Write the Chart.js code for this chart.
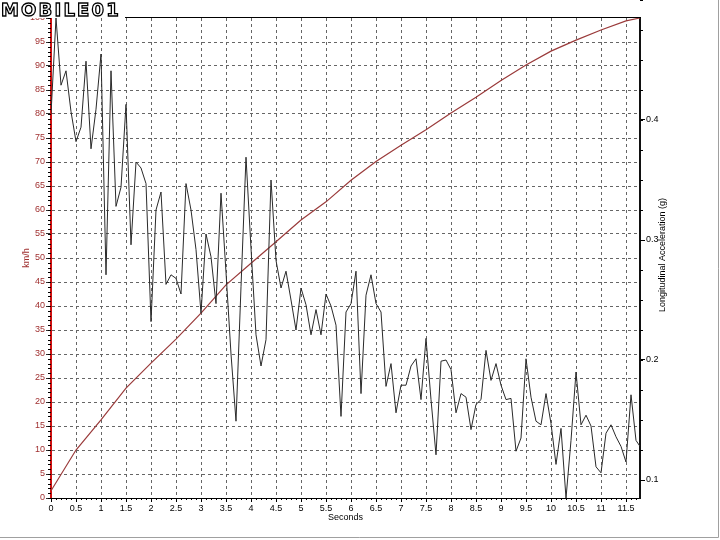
<!DOCTYPE html>
<html><head><meta charset="utf-8">
<script src="https://cdn.jsdelivr.net/npm/chart.js@4.4.1/dist/chart.umd.min.js"></script>
<style>
html,body{margin:0;padding:0;background:#fff;}
#wrap{position:relative;width:720px;height:540px;overflow:hidden;}
#logo{position:absolute;left:1px;top:0;height:18px;width:124px;background:#fff;
 font:bold 18px "DejaVu Sans",sans-serif;line-height:19px;letter-spacing:2.2px;color:#fff;
 -webkit-text-stroke:1.3px #000;white-space:nowrap;}
</style></head>
<body><div id="wrap"><canvas id="c" width="720" height="540"></canvas><div id="logo">MOBILE01</div></div>
<script>
// ---- data ----
const times = [0,0.1,0.2,0.3,0.4,0.5,0.6,0.7,0.8,0.9,1,1.1,1.2,1.3,1.4,1.5,1.6,1.7,1.8,1.9,
 2,2.1,2.2,2.3,2.4,2.5,2.6,2.7,2.8,2.9,3,3.1,3.2,3.3,3.4,3.5,3.6,3.7,3.8,3.9,
 4,4.1,4.2,4.3,4.4,4.5,4.6,4.7,4.8,4.9,5,5.1,5.2,5.3,5.4,5.5,5.6,5.7,5.8,5.9,
 6,6.1,6.2,6.3,6.4,6.5,6.6,6.7,6.8,6.9,7,7.1,7.2,7.3,7.4,7.5,7.6,7.7,7.8,7.9,
 8,8.1,8.2,8.3,8.4,8.5,8.6,8.7,8.8,8.9,9,9.1,9.2,9.3,9.4,9.5,9.6,9.7,9.8,9.9,
 10,10.1,10.2,10.3,10.4,10.5,10.6,10.7,10.8,10.9,11,11.1,11.2,11.3,11.4,11.5,11.6,11.7,11.78];
const accelG = [0.405,0.485,0.429,0.441,0.407,0.382,0.394,0.449,0.376,0.409,
 0.455,0.271,0.441,0.328,0.344,0.413,0.296,0.365,0.360,0.347,
 0.232,0.325,0.340,0.263,0.271,0.268,0.255,0.347,0.325,0.292,
 0.239,0.305,0.286,0.247,0.339,0.273,0.205,0.149,0.261,0.369,
 0.293,0.221,0.195,0.217,0.350,0.283,0.260,0.274,0.250,0.225,
 0.260,0.246,0.221,0.242,0.221,0.255,0.245,0.229,0.153,0.240,
 0.247,0.274,0.172,0.254,0.271,0.247,0.240,0.178,0.197,0.156,
 0.179,0.179,0.195,0.201,0.167,0.218,0.167,0.121,0.199,0.200,
 0.192,0.156,0.172,0.169,0.142,0.163,0.167,0.208,0.183,0.197,
 0.179,0.167,0.168,0.124,0.135,0.201,0.169,0.149,0.146,0.172,
 0.147,0.113,0.143,0.085,0.133,0.190,0.146,0.154,0.145,0.111,
 0.106,0.139,0.146,0.136,0.128,0.115,0.171,0.133,0.128];
const speedTimes = [0,0.5,1,1.5,2,2.5,3,3.5,4,4.5,5,5.5,6,6.5,7,7.5,8,8.5,9,9.5,10,10.5,11,11.5,11.78];
const speedKmh = [1.5,10,16.3,22.9,28.1,33.1,38.5,44.4,48.9,53.4,57.9,61.7,66.2,70.1,73.5,76.7,80.2,83.5,87,90.2,93.1,95.4,97.5,99.4,100];
const xTickLabels = [0,0.5,1,1.5,2,2.5,3,3.5,4,4.5,5,5.5,6,6.5,7,7.5,8,8.5,9,9.5,10,10.5,11,11.5];
const yTickLabels = [0,5,10,15,20,25,30,35,40,45,50,55,60,65,70,75,80,85,90,95,100];
const y2TickLabels = [0.1,0.2,0.3,0.4];

const FONT = {family:'"Liberation Sans", Arial, sans-serif', size:9};
const RED = '#a03030';

const extras = {
  id:'extras',
  beforeDraw(chart){
    const c = chart.ctx; c.save(); c.fillStyle='#fff'; c.fillRect(0,0,chart.width,chart.height); c.restore();
  },
  afterDraw(chart){
    const c = chart.ctx, a = chart.chartArea, {x,y,y2} = chart.scales;
    c.save();
    c.strokeStyle = '#000'; c.lineWidth = 1;
    c.beginPath();
    for (let i=0;i<=117;i++){ const px=Math.round(x.getPixelForValue(i/10))+0.5; c.moveTo(px,a.bottom); c.lineTo(px,a.bottom+2); }
    for (let i=0;i<=100;i++){ const py=Math.round(y.getPixelForValue(i))+0.5; c.moveTo(a.left-3,py); c.lineTo(a.left,py); }
    for (let i=0;i<=16;i++){ const py=Math.round(y2.getPixelForValue(0.1+i*0.025))+0.5; c.moveTo(a.right,py); c.lineTo(a.right+3,py); }
    c.stroke();
    // top frame line
    c.beginPath(); c.moveTo(a.left,Math.round(a.top)-0.5); c.lineTo(a.right+1,Math.round(a.top)-0.5); c.stroke();
    // right axis title
    c.fillStyle='#000'; c.font = '9px "Liberation Sans", Arial, sans-serif';
    c.textAlign='center'; c.textBaseline='middle';
    c.translate(663,255); c.rotate(-Math.PI/2); c.fillText('Longitudinal Acceleration (g)',0,0);
    c.restore();
    // outer gray frame
    c.save(); c.strokeStyle='#a0a0a0'; c.lineWidth=1;
    c.beginPath(); c.moveTo(0,537.5); c.lineTo(718.5,537.5); c.lineTo(718.5,0); c.stroke(); c.restore();
  }
};

new Chart(document.getElementById('c'), {
  type:'line',
  data:{datasets:[
    {label:'Longitudinal Acceleration (g)', data: times.map((t,i)=>({x:t,y:accelG[i]})), yAxisID:'y2',
     borderColor:'#2a2a2a', borderWidth:1, pointRadius:0, tension:0, fill:false},
    {label:'km/h', data: speedTimes.map((t,i)=>({x:t,y:speedKmh[i]})), yAxisID:'y',
     borderColor:'#9a3a3a', borderWidth:1.2, pointRadius:0, tension:0, fill:false}
  ]},
  options:{
    responsive:false, animation:false, devicePixelRatio:1,
    layout:{padding:{top:18,left:0,right:0,bottom:0}},
    plugins:{legend:{display:false}, tooltip:{enabled:false}, title:{display:false}},
    scales:{
      x:{type:'linear', position:'bottom', min:0, max:11.78,
        afterBuildTicks:s=>{s.ticks = xTickLabels.map(v=>({value:v}));},
        afterFit:s=>{s.height = 42;},
        ticks:{font:FONT, color:'#000', padding:1, maxRotation:0, autoSkip:false, callback:v=>String(v)},
        grid:{color:ctx=>(ctx.tick && ctx.tick.value===0)?'rgba(0,0,0,0)':'#666', lineWidth:1, tickLength:4, tickColor:'#000', tickBorderDash:[]},
        border:{display:true, color:'#000', width:1, dash:[3,3]},
        title:{display:true, text:'Seconds', font:FONT, color:'#000', padding:{top:0,bottom:16.6}}
      },
      y:{type:'linear', position:'left', min:0, max:100,
        afterBuildTicks:s=>{s.ticks = yTickLabels.map(v=>({value:v}));},
        afterFit:s=>{s.width = 51;},
        ticks:{font:FONT, color:RED, padding:1, autoSkip:false, callback:v=>String(v)},
        grid:{color:ctx=>(ctx.tick && (ctx.tick.value===0||ctx.tick.value===100))?'rgba(0,0,0,0)':'#666', lineWidth:1, tickLength:5, tickColor:'#333', tickBorderDash:[]},
        border:{display:true, color:'#cc1010', width:2, dash:[3,3]},
        title:{display:true, text:'km/h', font:FONT, color:RED, padding:{top:21.6,bottom:0}}
      },
      y2:{type:'linear', position:'right', min:0.085, max:0.485,
        afterBuildTicks:s=>{s.ticks = y2TickLabels.map(v=>({value:v}));},
        afterFit:s=>{s.width = 80;},
        ticks:{font:FONT, color:'#000', padding:1, autoSkip:false, callback:v=>String(v)},
        grid:{drawOnChartArea:false, tickLength:5, tickColor:'#000'},
        border:{display:true, color:'#111', width:2}
      }
    }
  },
  plugins:[extras]
});
</script>
</body></html>
